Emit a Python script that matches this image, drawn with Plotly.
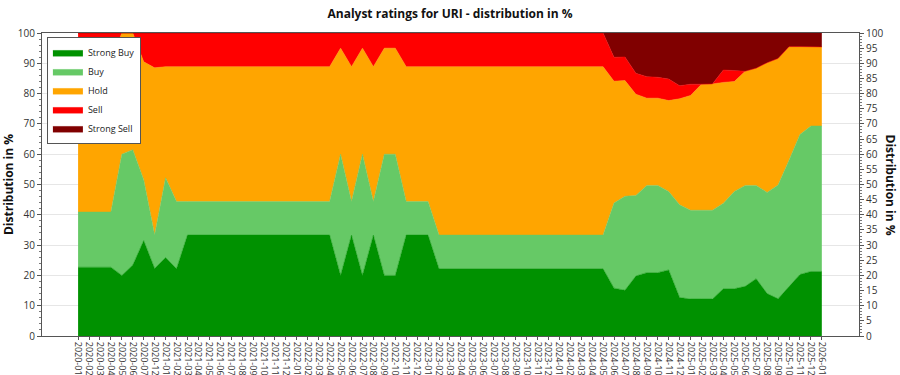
import plotly.graph_objects as go

categories = (
    ["2020-01", "2020-02", "2020-03", "2020-04", "2020-05", "2020-06", "2020-07", "2020-12"]
    + [f"{y}-{m:02d}" for y in (2021, 2022, 2023, 2024, 2025) for m in range(1, 13)]
    + ["2026-01"]
)

strong_buy = [22.7, 22.7, 22.7, 22.7, 20.0, 23.4, 31.5, 22.3, 25.9, 22.2,
              33.3, 33.3, 33.3, 33.3, 33.3, 33.3, 33.3, 33.3, 33.3, 33.3, 33.3, 33.3, 33.3, 33.3,
              20.0, 33.3, 20.0, 33.3, 20.0, 20.0, 33.3, 33.3, 33.3,
              22.2, 22.2, 22.2, 22.2, 22.2, 22.2, 22.2, 22.2, 22.2, 22.2, 22.2, 22.2, 22.2, 22.2, 22.2, 22.2,
              15.8, 15.1, 19.8, 20.9, 20.9, 21.8, 12.7, 12.2, 12.2, 12.2, 15.6, 15.6, 16.4, 18.9,
              14.0, 12.3, 16.3, 20.3, 21.3, 21.3]
buy = [18.2, 18.2, 18.2, 18.2, 40.0, 38.1, 20.1, 11.1, 26.3, 22.2,
       11.1, 11.1, 11.1, 11.1, 11.1, 11.1, 11.1, 11.1, 11.1, 11.1, 11.1, 11.1, 11.1, 11.1,
       40.0, 11.1, 40.0, 11.1, 40.0, 40.0, 11.1, 11.1, 11.1,
       11.1, 11.1, 11.1, 11.1, 11.1, 11.1, 11.1, 11.1, 11.1, 11.1, 11.1, 11.1, 11.1, 11.1, 11.1, 11.1,
       28.1, 31.0, 26.6, 28.8, 28.8, 25.9, 30.6, 29.3, 29.3, 29.3, 28.2, 32.1, 33.3, 30.8,
       33.4, 37.5, 41.7, 46.2, 48.0, 48.0]
hold = [50.0, 50.0, 50.0, 50.0, 40.0, 38.5, 38.9, 55.1, 36.7, 44.5,
        44.5, 44.5, 44.5, 44.5, 44.5, 44.5, 44.5, 44.5, 44.5, 44.5, 44.5, 44.5, 44.5, 44.5,
        35.0, 44.5, 35.0, 44.5, 35.0, 35.0, 44.5, 44.5, 44.5,
        55.6, 55.6, 55.6, 55.6, 55.6, 55.6, 55.6, 55.6, 55.6, 55.6, 55.6, 55.6, 55.6, 55.6, 55.6, 55.6,
        40.2, 38.2, 33.4, 28.8, 28.8, 30.0, 35.0, 37.9, 41.6, 41.7, 39.9, 36.3, 37.7, 38.7,
        42.8, 41.8, 37.5, 29.0, 26.1, 26.1]
sell = [9.1, 9.1, 9.1, 9.1, 0.0, 0.0, 9.5, 11.5, 11.1, 11.1,
        11.1, 11.1, 11.1, 11.1, 11.1, 11.1, 11.1, 11.1, 11.1, 11.1, 11.1, 11.1, 11.1, 11.1,
        5.0, 11.1, 5.0, 11.1, 5.0, 5.0, 11.1, 11.1, 11.1,
        11.1, 11.1, 11.1, 11.1, 11.1, 11.1, 11.1, 11.1, 11.1, 11.1, 11.1, 11.1, 11.1, 11.1, 11.1, 11.1,
        7.9, 7.8, 6.9, 7.1, 6.9, 7.1, 4.3, 3.7, 0.0, 0.0, 4.1, 3.6, 0.0, 0.0,
        0.0, 0.0, 0.0, 0.0, 0.0, 0.0]
strong_sell = [0.0] * 49 + [8.0, 7.9, 13.3, 14.4, 14.6, 15.2, 17.4, 16.9, 16.9, 16.8,
                            12.2, 12.4, 12.6, 11.6, 9.8, 8.4, 4.5, 4.5, 4.6, 4.6]

series = [
    ("Strong Buy", strong_buy, "#009100"),
    ("Buy", buy, "#66c966"),
    ("Hold", hold, "#ffa500"),
    ("Sell", sell, "#ff0000"),
    ("Strong Sell", strong_sell, "#800000"),
]

FONT = "Open Sans"
fig = go.Figure()
for name, vals, col in series:
    fig.add_trace(go.Scatter(
        x=categories, y=vals, name=name, mode="lines", stackgroup="one",
        line=dict(width=0.5, color=col), fillcolor=col, hoverinfo="x+y+name",
    ))

# invisible trace to activate right axis
fig.add_trace(go.Scatter(x=[categories[0]], y=[None], yaxis="y2", showlegend=False,
                         hoverinfo="skip", mode="lines"))

fig.update_layout(
    width=900, height=375,
    margin=dict(l=42, r=41, t=33, b=39),
    paper_bgcolor="white", plot_bgcolor="white",
    font=dict(family=FONT, size=10, color="#222"),
    title=dict(text="<b>Analyst ratings for URI - distribution in %</b>",
               x=0.5, xanchor="center", y=0.962, yanchor="middle",
               font=dict(family=FONT, size=12, color="#111")),
    showlegend=True,
    legend=dict(x=0.006, y=0.987, xanchor="left", yanchor="top",
                bgcolor="white", bordercolor="#555", borderwidth=1,
                font=dict(family=FONT, size=9, color="#222"),
                traceorder="normal", tracegroupgap=0, itemwidth=30),
    xaxis=dict(
        type="category", categoryorder="array", categoryarray=categories,
        range=[-3.3, 71.4], tickmode="array", tickvals=categories, ticktext=categories,
        tickangle=90, tickfont=dict(size=9, color="#333"),
        ticks="outside", ticklen=3, tickcolor="#555",
        showline=True, linecolor="#555", linewidth=1, mirror=True,
        showgrid=False, zeroline=False, automargin=False,
    ),
    yaxis=dict(
        range=[0, 100], dtick=10, tick0=0,
        ticks="outside", ticklen=4, tickcolor="#555",
        minor=dict(dtick=2, ticks="outside", ticklen=2, tickcolor="#777", showgrid=False),
        showline=True, linecolor="#555", linewidth=1,
        showgrid=True, gridcolor="#e6e6e6", zeroline=False,
        tickfont=dict(size=10, color="#333"), automargin=False,
        title=dict(text="<b>Distribution in %</b>", font=dict(size=12, color="#111"), standoff=6),
    ),
    yaxis2=dict(
        range=[0, 100], dtick=5, tick0=0, overlaying="y", side="right",
        ticks="outside", ticklen=4, tickcolor="#555",
        minor=dict(dtick=1, ticks="outside", ticklen=2, tickcolor="#777", showgrid=False),
        showline=True, linecolor="#555", linewidth=1,
        showgrid=False, zeroline=False, automargin=False,
        tickfont=dict(size=10, color="#333"),
    ),
    annotations=[dict(
        text="<b>Distribution in %</b>", xref="paper", yref="paper",
        x=1.0, xshift=31, y=0.5, textangle=90, showarrow=False,
        font=dict(family=FONT, size=12, color="#111"), xanchor="center", yanchor="middle",
    )],
)

fig.write_html("out.html")
